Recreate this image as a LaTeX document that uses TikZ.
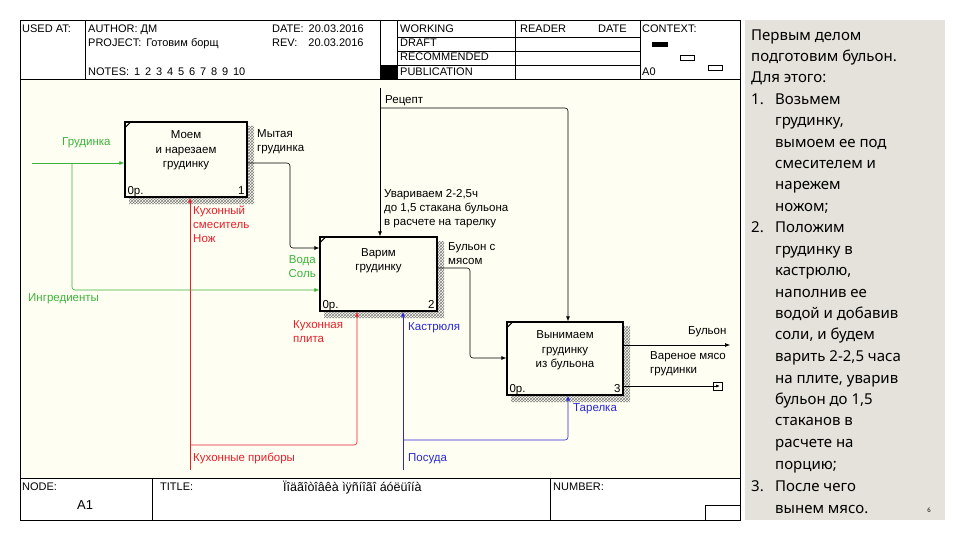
\documentclass[tikz,border=0pt]{standalone}
\usepackage{fontspec}
\setmainfont{Liberation Sans}
\newfontfamily\rfont{Noto Sans}
\usetikzlibrary{patterns,arrows.meta}
\definecolor{bg}{HTML}{FFFEF2}
\definecolor{panel}{HTML}{E4E2DA}
\definecolor{gr}{HTML}{3CB43C}
\definecolor{rd}{HTML}{E8202A}
\definecolor{bl}{HTML}{2828D8}
\begin{document}
\begin{tikzpicture}[x=1pt,y=-1pt,
  ml/.style={font=\fontsize{11.5}{14}\selectfont,inner sep=0pt,align=left,anchor=north west},
  t/.style={font=\fontsize{11.5}{14}\selectfont,inner sep=0pt,anchor=west,text height=8pt,text depth=2pt},
  h/.style={t,font=\fontsize{11}{13}\selectfont},
  rt/.style={font=\rfont\fontsize{15}{17}\selectfont,inner sep=0pt,anchor=west,text height=10pt,text depth=3pt},
  box/.style={draw,line width=1.4pt,inner sep=0pt,font=\fontsize{11.5}{14.5}\selectfont,align=center,fill=bg},
  shd/.style={pattern=crosshatch,pattern color=gray,draw=none},
  ar/.style={-{Latex[length=5pt,width=4pt]},rounded corners=3pt,line width=0.6pt},
  ln/.style={line width=0.5pt}]
\useasboundingbox (0,0) rectangle (960,540);
\fill[white] (0,0) rectangle (960,540);
\fill[bg] (20,80) rectangle (740,478);
\fill[panel] (745,20) rectangle (945,520);
% frame
\draw[ln] (20,20) rectangle (740,520);
\draw[line width=1pt] (20,80) -- (740,80);
\draw[line width=1pt] (20,478) -- (740,478);
\draw[ln] (85,20) -- (85,80) (380,20) -- (380,80) (397,20) -- (397,80) (515,20) -- (515,80) (640,20) -- (640,80);
\draw[ln] (397,37) -- (640,37) (397,51) -- (640,51) (397,65) -- (640,65) (380,65) -- (397,65);
\fill (381,65) rectangle (397,80);
\draw[ln] (152,478) -- (152,520) (550,478) -- (550,520);
\draw[ln] (705,520) -- (705,505) -- (740,505);
\node[h] (usedat) at (22,30) {USED AT:};
\node[h] (author) at (88,30) {AUTHOR: ДМ};
\node[h] (project) at (88,44) {PROJECT:\, Готовим борщ};
\node[h] (notes) at (88,73) {NOTES:\, 1\, 2\, 3\, 4\, 5\, 6\, 7\, 8\, 9\, 10};
\node[h] (date) at (272,30) {DATE:\, 20.03.2016};
\node[h] (rev) at (272,44) {REV:\quad 20.03.2016};
\node[h] (working) at (400,30) {WORKING};
\node[h] (draft) at (400,44) {DRAFT};
\node[h] (recom) at (400,58) {RECOMMENDED};
\node[h] (publ) at (400,73) {PUBLICATION};
\node[h] (reader) at (520,30) {READER};
\node[h] (rdate) at (598,30) {DATE};
\node[h] (context) at (642,30) {CONTEXT:};
\node[h] (a0) at (642,73) {A0};
\fill (652,42) rectangle (668,47);
\draw[ln] (680,55) rectangle (694,60) (708,65) rectangle (722,70);
\node[h] (node) at (22,487) {NODE:};
\node[t,font=\fontsize{13}{14}\selectfont] (a1) at (77,506) {A1};
\node[h] (title) at (160,487) {TITLE:};
\node[t,font=\fontsize{12.5}{14}\selectfont] (ttxt) at (283,488) {Ïîäãîòîâêà ìÿñíîãî áóëüîíà};
\node[h] (number) at (553,487) {NUMBER:};
% shadows
\fill[shd] (247,126) rectangle (254,204) (129,197) rectangle (254,204);
\fill[shd] (437,241) rectangle (444,318) (324,311) rectangle (444,318);
\fill[shd] (623,326) rectangle (630,402) (511,395) rectangle (630,402);
% boxes
\node[box,minimum width=122pt,minimum height=75pt] (b1) at (186,159.5) {Моем\\и нарезаем\\грудинку\\[6pt]};
\node[box,minimum width=117pt,minimum height=74pt] (b2) at (378.5,274) {Варим\\грудинку\\[14pt]};
\node[box,minimum width=116pt,minimum height=73pt] (b3) at (565,358.5) {Вынимаем\\грудинку\\из бульона\\[4pt]};
\foreach \b/\n in {b1/1,b2/2,b3/3}{
  \node[t,anchor=south west] (\b op) at ([shift={(3,-1)}]\b.south west) {0р.};
  \node[t,anchor=south east] (\b n) at ([shift={(-3,-1)}]\b.south east) {\n};
  \draw[line width=1pt] ([shift={(1,6)}]\b.north west) -- ([shift={(6,1)}]\b.north west);
}
% coordinates
\coordinate (gin) at (32,163);
\coordinate (rin) at (380,88);
\coordinate (redin) at (190,470);
\coordinate (blin) at (403,470);
\coordinate (out1) at (730,345);
\coordinate (out2) at (718,386);
% green
\draw[ar,gr] (gin) -- (b1.west |- gin);
\draw[ar,gr] (72,163) -- (72,290) -- (b2.west |- 0,290);
\node[t,text=gr] (lg1) at (62,143) {Грудинка};
\node[t,text=gr] (lg2) at (28,298) {Ингредиенты};
\node[ml,text=gr,align=right,anchor=north east] (lg3) at (316,255) {Вода\\Соль};
% black
\draw[ar] (b1.east |- 0,163) -- (290,163) -- (290,248) -- (b2.west |- 0,248);
\draw[ar] (rin) -- (b2.north -| rin);
\draw[ar] (380,108) -- (568,108) -- (b3.north -| 568,0);
\draw[ar] (b2.east |- 0,268) -- (470,268) -- (470,358) -- (b3.west |- 0,358);
\draw[ar] (b3.east |- out1) -- (out1);
\draw[line width=0.6pt] (b3.east |- out2) -- (out2);
\draw[line width=0.6pt] (713,382) rectangle (722,390);
\draw[-{Latex[length=4pt,width=3pt]},line width=0.6pt] (710,386) -- (720,386);
\node[ml] (lm) at (257,129) {Мытая\\грудинка};
\node[t] (lr) at (385,101) {Рецепт};
\node[ml] (lu) at (384,189) {Увариваем 2-2,5ч\\до 1,5 стакана бульона\\в расчете на тарелку};
\node[ml] (lb) at (448,242) {Бульон с\\мясом};
\node[t] (lbo) at (688,331) {Бульон};
\node[ml] (lv) at (650,351) {Вареное мясо\\грудинки};
% red
\draw[ar,rd] (redin) -- (b1.south -| redin);
\draw[ar,rd] (190,445) -- (357,445) -- (b2.south -| 357,0);
\node[ml,text=rd] (lk1) at (193,206) {Кухонный\\смеситель\\Нож};
\node[ml,text=rd] (lk2) at (293,320) {Кухонная\\плита};
\node[t,text=rd] (lk3) at (193,458) {Кухонные приборы};
% blue
\draw[ar,bl] (blin) -- (b2.south -| blin);
\draw[ar,bl] (403,440) -- (568,440) -- (b3.south -| 568,0);
\node[t,text=bl] (lp1) at (408,327) {Кастрюля};
\node[t,text=bl] (lp2) at (573,408) {Тарелка};
\node[t,text=bl] (lp3) at (408,458) {Посуда};
% right text
\foreach \y/\s in {37/Первым делом,58/подготовим бульон.,79/Для этого:}
  \node[rt] at (751,\y) {\s};
\foreach \y/\s in {101/1.,229/2.,488/3.}
  \node[rt] at (751,\y) {\s};
\foreach \y/\s in {101/Возьмем,122/{грудинку,},144/вымоем ее под,165/смесителем и,186/нарежем,208/ножом;,229/Положим,251/грудинку в,272/{кастрюлю,},294/наполнив ее,315/водой и добавив,336/{соли, и будем},358/{варить 2-2,5 часа},380/{на плите, уварив},401/{бульон до 1,5},422/стаканов в,444/расчете на,466/порцию;,488/После чего,510/вынем мясо.}
  \node[rt] at (775,\y) {\s};
\node[font=\rfont\fontsize{6}{7}\selectfont] (pg) at (929,510) {6};
\end{tikzpicture}
\end{document}
